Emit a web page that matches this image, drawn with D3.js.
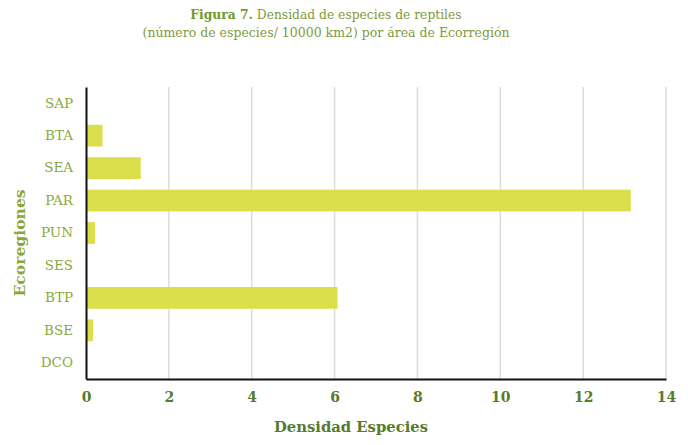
<!DOCTYPE html>
<html><head><meta charset="utf-8">
<script src="https://cdn.jsdelivr.net/npm/d3@7"></script>
<style>
html,body{margin:0;padding:0;background:#fff;}
svg text{font-family:"DejaVu Serif",serif;}
</style></head>
<body><svg id="c" width="688" height="445"></svg>
<script>
const categories = ["SAP","BTA","SEA","PAR","PUN","SES","BTP","BSE","DCO"];
const values = [0, 0.40, 1.32, 13.15, 0.22, 0, 6.07, 0.17, 0];
const xTicks = [0,2,4,6,8,10,12,14];

const svg = d3.select("#c");
const m = {left:86, right:22, top:87, bottom:66};
const W = 688, H = 445;
const x = d3.scaleLinear().domain([0,14]).range([m.left, W-m.right]);
const y = d3.scaleBand().domain(categories).range([m.top, H-m.bottom]).paddingInner(0.33).paddingOuter(0.165);

const olive = "#8aa83a", dark = "#557b2b";

// grid
svg.append("g").selectAll("line").data(xTicks.filter(d=>d>0)).join("line")
  .attr("x1",d=>x(d)).attr("x2",d=>x(d)).attr("y1",m.top).attr("y2",H-m.bottom)
  .attr("stroke","#dcdcdc").attr("stroke-width",1.5);

// bars
svg.append("g").selectAll("rect").data(categories).join("rect")
  .attr("x",x(0)).attr("y",d=>y(d)).attr("height",y.bandwidth())
  .attr("width",(d,i)=>x(values[i])-x(0)).attr("fill","#dcdf4c");

// x axis
const xa = svg.append("g").attr("transform",`translate(0,${H-m.bottom})`)
  .call(d3.axisBottom(x).tickValues(xTicks).tickSize(0).tickPadding(13));
xa.select(".domain").attr("stroke","#111").attr("stroke-width",2);
xa.selectAll("text").attr("fill",dark).attr("font-weight","bold").attr("font-size",14);

// y axis
const ya = svg.append("g").attr("transform",`translate(${m.left},0)`)
  .call(d3.axisLeft(y).tickSize(0).tickPadding(13));
ya.select(".domain").attr("stroke","#111").attr("stroke-width",2);
ya.selectAll("text").attr("fill",olive).attr("font-size",13.5);

// axis titles
svg.append("text").attr("x",351).attr("y",432).attr("text-anchor","middle")
  .attr("fill",dark).attr("font-weight","bold").attr("font-size",14.8).text("Densidad Especies");
svg.append("text").attr("transform","translate(25,243) rotate(-90)").attr("text-anchor","middle")
  .attr("fill",olive).attr("font-weight","bold").attr("font-size",15.6).text("Ecoregiones");

// title
const t1 = svg.append("text").attr("x",326).attr("y",19).attr("text-anchor","middle").attr("font-size",12.3);
t1.append("tspan").attr("fill","#6f9a2c").attr("font-weight","bold").text("Figura 7.");
t1.append("tspan").attr("fill","#7f9a3a").text(" Densidad de especies de reptiles");
svg.append("text").attr("x",326).attr("y",37).attr("text-anchor","middle").attr("font-size",12.5)
  .attr("fill","#7f9a3a").text("(número de especies/ 10000 km2) por área de Ecorregión");
</script></body></html>
